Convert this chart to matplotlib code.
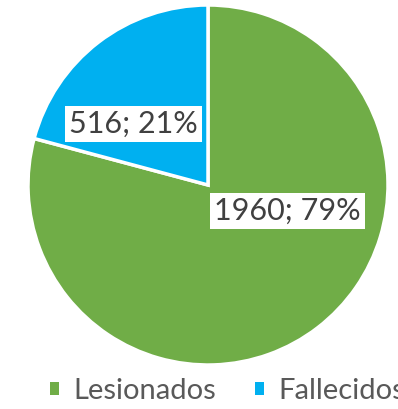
import matplotlib.pyplot as plt
from matplotlib.patches import Patch

categorias = ['Lesionados', 'Fallecidos']
valores = [1960, 516]
colores = ['#70AD47', '#00B0F0']

plt.rcParams['font.family'] = ['Lato', 'DejaVu Sans']

fig = plt.figure(figsize=(3.98, 4.09), dpi=100)
ax = fig.add_axes([28 / 398, 44 / 409, 360 / 398, 360 / 409])

wedges, _ = ax.pie(valores, colors=colores, startangle=90, counterclock=False,
                   wedgeprops=dict(edgecolor='white', linewidth=2.5))
ax.set_xlim(-1, 1)
ax.set_ylim(-1, 1)
ax.set_aspect('equal')

total = sum(valores)
posiciones = [(0.44, -0.145), (-0.415, 0.34)]
for v, (x, y) in zip(valores, posiciones):
    ax.text(x, y, f'{v}; {round(100 * v / total)}%', ha='center', va='center',
            fontsize=22, color='#404040',
            bbox=dict(facecolor='white', edgecolor='none', pad=3))

handles = [Patch(facecolor=c, edgecolor='none') for c in colores]
fig.legend(handles, categorias, loc='center left', bbox_to_anchor=(50 / 398, 0.045),
           ncol=2, frameon=False, labelcolor='#595959', borderpad=0, borderaxespad=0,
           handlelength=0.3, handleheight=0.3, handletextpad=0.5,
           columnspacing=1.35, prop={'size': 21})

fig.savefig('out.png', dpi=100)
